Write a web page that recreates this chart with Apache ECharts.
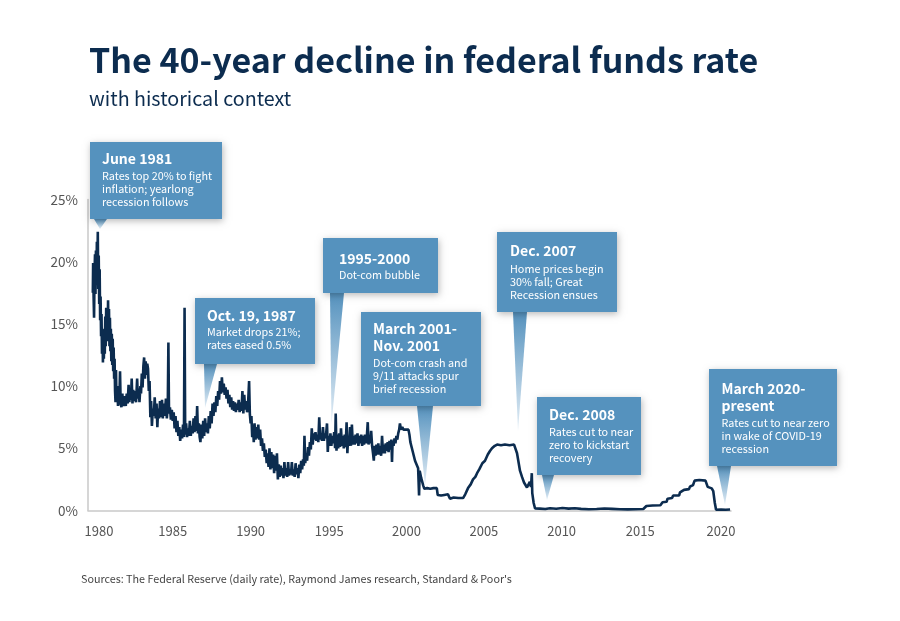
<!DOCTYPE html>
<html lang="en">
  <head>
    <meta charset="UTF-8" />
    <title>The 40-year decline in federal funds rate</title>
    <style>
      html, body { margin: 0; padding: 0; width: 100%; height: 100%; overflow: hidden; background: #fff; }
      #chart { width: 900px; height: 621px; }
    </style>
    <script src="https://cdnjs.cloudflare.com/ajax/libs/echarts/6.0.0/echarts.min.js"></script>
  </head>
  <body>
    <div id="chart"></div>
    <script>
      // the printed year labels sit a little off an even scale, so they are placed where the picture has them
      const yearLabelSpots = [1980, 1984.74, 1989.75, 1994.8, 1999.77, 2004.75, 2009.75, 2014.8, 2020];

      // rate readings by stretch of the picture: [year, percent]
      const rates1980to1984 = [
        [1979.60,17.5],[1979.62,19.9],[1979.65,17.2],[1979.68,15.5],[1979.71,19.0],[1979.74,20.6],[1979.77,17.4],[1979.80,20.9],
        [1979.83,18.1],[1979.86,21.6],[1979.89,19.0],[1979.92,22.4],[1979.95,17.8],[1979.98,20.5],[1980.01,16.6],[1980.04,19.4],
        [1980.07,15.3],[1980.10,17.2],[1980.13,14.0],[1980.16,15.8],[1980.19,12.6],[1980.22,14.6],[1980.25,11.9],[1980.28,13.9],
        [1980.31,12.2],[1980.34,14.3],[1980.37,12.6],[1980.40,15.6],[1980.43,13.2],[1980.46,16.3],[1980.49,14.0],[1980.52,16.2],
        [1980.55,13.6],[1980.58,16.9],[1980.61,13.9],[1980.64,16.2],[1980.67,13.2],[1980.70,15.5],[1980.73,12.8],[1980.76,14.6],
        [1980.79,12.0],[1980.82,14.2],[1980.85,11.7],[1980.88,13.8],[1980.91,11.2],[1980.94,13.1],[1980.97,10.6],[1981.00,12.2],
        [1981.03,9.6],[1981.06,8.7],[1981.09,11.3],[1981.12,9.0],[1981.15,8.8],[1981.18,9.8],[1981.22,8.4],[1981.26,10.0],
        [1981.30,8.5],[1981.35,11.2],[1981.39,8.6],[1981.44,8.3],[1981.50,9.4],[1981.55,8.4],[1981.60,8.3],[1981.66,9.2],
        [1981.72,8.4],[1981.78,9.4],[1981.84,8.6],[1981.90,10.1],[1981.95,8.7],[1982.00,9.6],[1982.05,8.9],[1982.10,10.6],
        [1982.15,8.6],[1982.20,9.7],[1982.26,8.8],[1982.32,9.6],[1982.38,8.7],[1982.45,10.6],[1982.50,9.0],[1982.55,9.8],
        [1982.60,8.7],[1982.66,10.0],[1982.70,9.4],[1982.75,11.0],[1982.80,9.9],[1982.85,11.6],[1982.90,12.3],[1982.95,10.6],
        [1983.00,12.0],[1983.05,10.9],[1983.10,11.8],[1983.15,11.4],[1983.20,9.6],[1983.25,10.4],[1983.30,7.5],[1983.35,8.8],
        [1983.40,6.8],[1983.46,8.2],[1983.52,7.6],[1983.58,9.1],[1983.64,7.4],[1983.70,8.6],[1983.75,6.7],[1983.80,8.2],
        [1983.86,7.4],[1983.92,8.8],[1983.98,7.5],[1984.05,8.9],[1984.10,7.4],[1984.16,8.6],[1984.22,7.6],[1984.30,9.0],
        [1984.36,7.4],[1984.42,8.4],[1984.46,13.5],[1984.50,7.8]
      ];
      const rates1985to1989 = [
        [1984.56,8.3],[1984.62,7.3],[1984.68,8.1],[1984.74,7.2],[1984.80,7.9],[1984.86,6.6],[1984.92,7.6],[1984.98,6.3],
        [1985.04,7.2],[1985.10,6.0],[1985.16,6.7],[1985.22,5.6],[1985.28,6.5],[1985.34,5.8],[1985.40,6.9],[1985.46,5.9],
        [1985.50,16.3],[1985.54,6.1],[1985.60,7.0],[1985.66,5.9],[1985.72,6.6],[1985.78,6.0],[1985.84,7.2],[1985.90,6.0],
        [1985.96,6.8],[1986.02,6.2],[1986.08,7.4],[1986.14,6.3],[1986.20,7.6],[1986.26,6.4],[1986.31,8.4],[1986.36,6.2],
        [1986.42,7.0],[1986.47,5.9],[1986.52,5.5],[1986.58,6.9],[1986.64,5.8],[1986.70,7.2],[1986.76,6.0],[1986.82,7.4],
        [1986.88,6.3],[1986.94,7.0],[1987.00,6.2],[1987.06,7.6],[1987.12,6.6],[1987.18,8.0],[1987.24,7.0],[1987.30,8.6],
        [1987.36,7.6],[1987.42,8.7],[1987.48,7.9],[1987.54,9.2],[1987.60,8.4],[1987.66,9.6],[1987.72,8.9],[1987.78,10.4],
        [1987.84,9.4],[1987.90,10.7],[1987.96,9.5],[1988.02,10.2],[1988.08,9.3],[1988.14,9.9],[1988.20,9.0],[1988.26,9.7],
        [1988.32,8.6],[1988.38,9.3],[1988.44,8.3],[1988.50,9.1],[1988.56,8.1],[1988.62,8.8],[1988.68,8.0],[1988.74,8.7],
        [1988.80,7.9],[1988.86,8.6],[1988.92,8.1],[1988.98,8.9],[1989.04,7.9],[1989.10,8.7],[1989.16,8.0],[1989.22,9.6],
        [1989.28,7.8],[1989.34,9.3],[1989.40,8.1],[1989.46,8.8],[1989.52,7.9],[1989.58,8.5],[1989.65,10.4],[1989.70,7.7],
        [1989.75,7.0],[1989.80,7.6],[1989.85,5.9],[1989.90,6.9],[1989.95,5.5]
      ];
      const rates1990to1994 = [
        [1990.00,7.0],[1990.06,5.7],[1990.12,6.7],[1990.18,5.8],[1990.24,6.9],[1990.30,5.7],[1990.36,6.5],[1990.42,5.2],
        [1990.48,5.8],[1990.54,4.8],[1990.60,5.4],[1990.66,4.3],[1990.72,4.9],[1990.78,3.8],[1990.84,4.6],[1990.90,3.5],
        [1990.96,5.0],[1991.02,3.3],[1991.08,4.7],[1991.14,3.4],[1991.20,4.5],[1991.26,3.0],[1991.32,4.4],[1991.38,3.2],
        [1991.44,4.6],[1991.50,2.5],[1991.56,3.7],[1991.62,2.7],[1991.68,3.6],[1991.74,2.8],[1991.80,3.4],[1991.86,2.6],
        [1991.92,3.9],[1991.98,2.8],[1992.04,3.4],[1992.10,2.7],[1992.16,3.9],[1992.22,2.8],[1992.28,3.3],[1992.34,2.9],
        [1992.40,3.9],[1992.46,2.8],[1992.52,3.3],[1992.58,2.7],[1992.64,3.8],[1992.70,2.9],[1992.76,3.4],[1992.82,2.6],
        [1992.88,3.7],[1992.94,3.0],[1993.00,4.0],[1993.06,3.3],[1993.12,4.1],[1993.17,3.6],[1993.21,6.0],[1993.26,3.8],
        [1993.32,4.6],[1993.38,4.0],[1993.44,5.1],[1993.50,4.4],[1993.56,5.5],[1993.62,4.9],[1993.68,6.6],[1993.74,5.3],
        [1993.80,6.2],[1993.86,5.7],[1993.92,6.3],[1993.98,5.6],[1994.04,6.1],[1994.10,5.5],[1994.16,7.5],[1994.22,5.7],
        [1994.28,6.2],[1994.34,5.6],[1994.40,6.7],[1994.46,5.6],[1994.52,6.2],[1994.58,5.8],[1994.66,7.0],[1994.71,4.7],
        [1994.76,6.0],[1994.82,5.2],[1994.88,6.2],[1994.94,5.2],[1995.00,6.0],[1995.06,5.4]
      ];
      const rates1995to1999 = [
        [1995.12,6.3],[1995.18,5.0],[1995.22,7.8],[1995.27,4.8],[1995.32,6.1],[1995.38,5.0],[1995.44,6.2],[1995.50,5.1],
        [1995.56,6.6],[1995.62,5.2],[1995.68,6.0],[1995.74,5.0],[1995.80,6.1],[1995.86,5.1],[1995.92,7.1],[1995.97,4.6],
        [1996.02,6.0],[1996.08,5.2],[1996.14,6.7],[1996.20,5.2],[1996.26,6.9],[1996.32,5.3],[1996.38,6.0],[1996.44,5.3],
        [1996.50,6.1],[1996.56,5.4],[1996.62,6.2],[1996.68,5.2],[1996.74,6.0],[1996.80,5.4],[1996.86,6.1],[1996.92,5.2],
        [1996.98,6.0],[1997.04,5.3],[1997.10,6.1],[1997.16,5.4],[1997.22,5.9],[1997.28,7.1],[1997.33,5.3],[1997.38,6.0],
        [1997.44,5.4],[1997.50,6.4],[1997.56,5.2],[1997.62,4.6],[1997.67,4.0],[1997.72,5.2],[1997.78,4.4],[1997.84,5.3],
        [1997.90,4.5],[1997.96,5.4],[1998.02,4.5],[1998.08,5.2],[1998.14,4.4],[1998.20,6.0],[1998.26,4.6],[1998.32,5.3],
        [1998.38,4.6],[1998.44,5.4],[1998.50,4.8],[1998.56,5.5],[1998.62,4.7],[1998.68,5.6],[1998.74,4.9],[1998.80,5.7],
        [1998.84,3.9],[1998.88,5.6],[1998.94,5.2],[1999.00,5.8],[1999.06,5.4],[1999.12,6.0],[1999.18,5.7],[1999.24,6.2],
        [1999.30,6.5],[1999.35,7.0],[1999.42,6.5],[1999.50,6.7],[1999.58,6.5],[1999.66,6.6],[1999.74,6.5],[1999.82,6.6],[1999.90,6.5]
      ];
      const rates2000to2009 = [
        [1999.96,6.1],[2000.02,5.5],[2000.16,4.8],[2000.32,4.0],[2000.42,3.7],[2000.52,3.4],[2000.58,1.2],[2000.62,3.2],
        [2000.72,2.6],[2000.85,2.0],[2000.92,1.75],[2001.10,1.8],[2001.30,1.75],[2001.50,1.8],[2001.72,1.8],[2001.78,1.25],
        [2002.00,1.2],[2002.20,1.25],[2002.30,1.15],[2002.44,1.3],[2002.57,0.95],[2002.80,1.05],[2003.10,1.0],[2003.41,1.0],
        [2003.55,1.3],[2003.73,1.8],[2003.90,2.1],[2004.05,2.5],[2004.20,2.7],[2004.31,3.0],[2004.45,3.3],[2004.65,3.8],
        [2004.82,4.0],[2005.00,4.5],[2005.15,4.8],[2005.27,5.0],[2005.45,5.2],[2005.60,5.3],[2005.85,5.25],[2006.10,5.3],
        [2006.40,5.25],[2006.69,5.3],[2006.88,4.6],[2007.07,3.2],[2007.20,2.7],[2007.33,2.25],[2007.52,1.85],[2007.70,2.3],
        [2007.78,1.9],[2007.83,3.0],[2007.86,1.4],[2007.95,0.6],[2008.04,0.16],[2008.35,0.15],[2008.70,0.12],[2009.00,0.18],
        [2009.40,0.14],[2009.80,0.2]
      ];
      const rates2010to2020 = [
        [2010.20,0.15],[2010.60,0.18],[2011.00,0.13],[2011.50,0.1],[2012.00,0.12],[2012.50,0.16],[2013.00,0.13],[2013.50,0.1],
        [2014.00,0.09],[2014.50,0.1],[2015.00,0.12],[2015.12,0.2],[2015.20,0.36],[2015.60,0.4],[2016.10,0.42],[2016.24,0.66],
        [2016.50,0.7],[2016.56,0.95],[2016.85,1.0],[2016.92,1.2],[2017.30,1.2],[2017.36,1.45],[2017.62,1.66],[2017.94,1.72],
        [2018.00,1.92],[2018.20,2.05],[2018.30,2.4],[2018.60,2.45],[2019.00,2.4],[2019.14,1.9],[2019.40,1.78],[2019.50,1.55],
        [2019.60,0.6],[2019.68,0.06],[2020.00,0.08],[2020.30,0.06],[2020.58,0.08]
      ];

      const calloutHeads = [
        ['June 1981'], ['Oct. 19, 1987'], ['1995-2000'], ['March 2001-', 'Nov. 2001'],
        ['Dec. 2007'], ['Dec. 2008'], ['March 2020-', 'present']
      ];
      const calloutBodies = [
        ['Rates top 20% to fight', 'inflation; yearlong', 'recession follows'],
        ['Market drops 21%;', 'rates eased 0.5%'],
        ['Dot-com bubble'],
        ['Dot-com crash and', '9/11 attacks spur', 'brief recession'],
        ['Home prices begin', '30% fall; Great', 'Recession ensues'],
        ['Rates cut to near', 'zero to kickstart', 'recovery'],
        ['Rates cut to near zero', 'in wake of COVID-19', 'recession']
      ];

      // box and pointer placement in page pixels, same order as the texts above
      const calloutLayout = [
        { x: 90, y: 142, w: 132, h: 77, textX: 102, headY: 159, bodyY: 176, base: [94, 107], tip: [100, 229] },
        { x: 195, y: 298, w: 120, h: 66, textX: 207, headY: 316, bodyY: 332, base: [204, 217], tip: [205, 408] },
        { x: 323, y: 238, w: 115, h: 55, textX: 339, headY: 258.5, bodyY: 275, base: [330, 344], tip: [331.5, 424] },
        { x: 361, y: 312, w: 120, h: 94, textX: 373, headY: 329, bodyY: 363, base: [417, 433], tip: [425, 486] },
        { x: 497, y: 232, w: 120, h: 80, textX: 510, headY: 251, bodyY: 269, base: [513, 527], tip: [518, 431] },
        { x: 537, y: 397, w: 104, h: 78, textX: 549, headY: 415, bodyY: 432, base: [542, 554], tip: [547, 500] },
        { x: 709, y: 369, w: 128, h: 97, textX: 721.5, headY: 389, bodyY: 423, base: [717, 731], tip: [725, 505] }
      ];

      const BOX_BLUE = '#5592be';
      const NAVY = '#0c2c4f';
      const FONT = '"Noto Sans CJK SC", "Noto Sans", sans-serif';

      function buildCallouts() {
        const out = [];
        calloutLayout.forEach(function (c, i) {
          out.push({
            type: 'polygon',
            z: 20,
            shape: { points: [[c.base[0], c.y + c.h], [c.base[1], c.y + c.h], c.tip] },
            style: {
              fill: {
                type: 'linear', x: 0, y: 0, x2: 0, y2: 1,
                colorStops: [{ offset: 0, color: BOX_BLUE }, { offset: 1, color: '#e4eef6' }]
              }
            }
          });
          out.push({
            type: 'rect',
            z: 21,
            shape: { x: c.x, y: c.y, width: c.w, height: c.h },
            style: { fill: BOX_BLUE, shadowBlur: 7, shadowOffsetX: 1, shadowOffsetY: 2, shadowColor: 'rgba(0,0,0,0.28)' }
          });
          calloutHeads[i].forEach(function (line, k) {
            out.push({
              type: 'text', z: 22, x: c.textX, y: c.headY + k * 17,
              style: { text: line, fill: '#fff', font: 'bold 14px ' + FONT, textVerticalAlign: 'middle' }
            });
          });
          calloutBodies[i].forEach(function (line, k) {
            out.push({
              type: 'text', z: 22, x: c.textX, y: c.bodyY + k * 13,
              style: { text: line, fill: '#fff', font: '10.8px ' + FONT, textVerticalAlign: 'middle' }
            });
          });
        });
        out.push({
          type: 'text', z: 22, x: 81, y: 579,
          style: {
            text: "Sources: The Federal Reserve (daily rate), Raymond James research, Standard & Poor's",
            fill: '#444', font: '10.75px ' + FONT, textVerticalAlign: 'middle'
          }
        });
        return out;
      }

      const chart = echarts.init(document.getElementById('chart'), null, { renderer: 'canvas' });

      chart.setOption({
        animation: false,
        backgroundColor: '#fff',
        textStyle: { fontFamily: FONT },
        title: [
          { text: 'The 40-year decline in federal funds rate', left: 89, top: 43, padding: 0, textStyle: { color: NAVY, fontFamily: FONT, fontSize: 34, fontWeight: 'bold' } },
          { text: 'with historical context', left: 89, top: 89, padding: 0, textStyle: { color: NAVY, fontFamily: FONT, fontSize: 19.7, fontWeight: 'normal' } }
        ],
        grid: { left: 88, right: 169, top: 199.5, bottom: 110.5 },
        xAxis: {
          type: 'value',
          min: 1979.29,
          max: 2020.64,
          splitLine: { show: false },
          axisTick: { show: false },
          axisLine: { lineStyle: { color: '#c9c9c9', width: 1.5 } },
          axisLabel: {
            customValues: yearLabelSpots,
            formatter: function (v) { return String(Math.round(v / 5) * 5); },
            color: '#555', fontSize: 13, margin: 14, fontFamily: FONT
          }
        },
        yAxis: {
          type: 'value',
          min: 0,
          max: 25,
          interval: 5,
          splitLine: { show: false },
          axisTick: { show: false },
          axisLine: { show: true, lineStyle: { color: '#c9c9c9', width: 1.5 } },
          axisLabel: { formatter: '{value}%', color: '#555', fontSize: 13.5, margin: 10, fontFamily: FONT }
        },
        series: [{
          type: 'line',
          showSymbol: false,
          silent: true,
          sampling: false,
          lineStyle: { color: NAVY, width: 2.6, join: 'bevel' },
          data: [].concat(rates1980to1984, rates1985to1989, rates1990to1994, rates1995to1999, rates2000to2009, rates2010to2020)
        }],
        graphic: buildCallouts()
      });
    </script>
  </body>
</html>
